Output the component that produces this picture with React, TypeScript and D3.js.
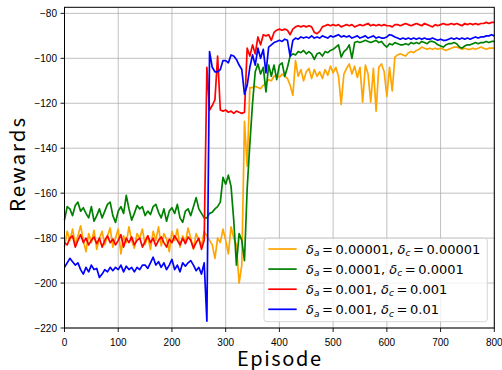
import React from 'react';
import * as d3 from 'd3';

// episodes sampled every 5 steps
const episodes = d3.range(0, 801, 5);

const orangeRewards = [
  -184, -177, -181, -176, -183, -179, -174.5, -181, -186, -178,
  -182, -176.5, -185, -180, -177, -183, -179, -175.5, -184, -180,
  -176, -187, -179, -182, -175, -181, -184.5, -178, -180, -176,
  -183, -179, -185, -177, -181, -175, -183.5, -178, -180.5, -186,
  -177, -181, -176, -184, -179, -182, -175.5, -180, -185, -178,
  -181, -183.5, -177,
  -179, -181, -183, -189, -180, -182, -176, -181, -187, -175,
  -180, -183, -200, -192, -128, -148, -113,
  -113, -112.5, -113, -113.5, -112, -111, -109.5, -110, -108, -107.5,
  -108.5, -107, -108, -109, -112, -116.5, -101, -108, -105, -110,
  -106, -104.5, -109, -105, -108, -106, -109, -105, -107.5, -103.5,
  -106.5, -104, -108, -120.5, -107, -104.5, -102.5, -107, -103.5, -108.5,
  -104, -119.5, -103, -107, -119.5, -104.5, -123.5, -104, -102.5, -106,
  -117, -104, -114.5, -99.5, -98.5, -98, -98.5, -99, -97.5, -97,
  -97.5, -96.5, -96, -95, -95.5, -96, -95.5, -96, -95.5, -96,
  -95.5, -96, -96.5, -96, -95.5, -95, -95, -95.5, -96, -95.5,
  -96, -96, -95.5, -96, -95.5, -95, -95.5, -96, -95.5, -95.5,
  -95.5,
];

const greenRewards = [
  -172, -166, -167, -170, -165.5, -164, -168, -166.5, -169, -171,
  -166, -172.5, -170, -167, -171, -168, -165, -164, -170, -173,
  -168, -166, -169, -161, -167, -172, -169, -165.5, -167, -166,
  -170, -168, -169.5, -166, -165, -168.5, -171, -167, -172.5, -168,
  -166.5, -169, -165, -171, -173, -168, -167, -170, -166, -162,
  -167, -169, -171,
  -171, -169, -168.5, -167, -166, -164, -153, -156, -152, -157,
  -172, -192, -178, -181, -190, -158, -138,
  -120, -106, -102.5, -107, -104, -115, -103, -108, -103, -109.5,
  -103, -102, -108, -104, -99, -98, -98.5, -97, -97.5, -96.5,
  -98, -97, -98, -100.5, -98, -97.5, -99, -97, -97.5, -96.5,
  -96, -95, -94, -99.5, -97, -96, -94, -100, -93, -92.5,
  -93, -92.5, -92, -92.5, -93, -92.5, -92, -93, -92.5, -94,
  -95, -93.5, -94, -93, -93.5, -94, -94, -93.5, -94, -93,
  -93.5, -93, -93.5, -92.5, -93, -93.5, -92.5, -92.5, -93, -94,
  -94.5, -95, -94, -93.5, -93.5, -93, -93.5, -95, -95.5, -94.5,
  -94, -94, -93.5, -93, -93.5, -93, -93, -92.5, -93, -92.5,
  -92.5,
];

const redRewards = [
  -182, -183, -180, -179, -184, -181, -178.5, -182, -180, -183,
  -181, -179.5, -182.5, -180, -184, -181, -179, -182, -180.5, -183,
  -181, -178.5, -184, -180, -182, -179.5, -183, -181, -180, -184,
  -181.5, -179, -182, -180, -183.5, -181, -179.5, -182, -184, -180.5,
  -182, -179, -181, -183, -180, -182.5, -179.5, -181, -184.5, -182,
  -180, -185, -181,
  -104, -123, -121, -118.5, -99, -123, -123.5, -123, -124, -123.5,
  -124.5, -123.5, -124, -124.5, -124, -95.5, -99,
  -94, -98, -90.5, -94, -89.5, -90, -89.5, -92, -88.5, -87.5,
  -87, -87.5, -87, -87.5, -89.5, -87, -86, -85.5, -86, -85.5,
  -86, -85.5, -86, -88.5, -89, -88, -86, -85.5, -85, -85.5,
  -85, -85.5, -85, -86, -85.5, -85, -85.5, -85, -86, -85.5,
  -85, -85.5, -85, -84.5, -85.5, -85, -85.5, -85, -85.5, -85,
  -85.5, -85.5, -86, -85, -85, -85.5, -85, -84.5, -85, -85.5,
  -85, -84.5, -85, -85.5, -84.5, -85, -85.5, -86, -85, -85.5,
  -85, -84.5, -85, -85, -84.5, -85, -84.5, -85, -85.5, -84.5,
  -85, -84.5, -85, -84.5, -85, -84.5, -84.5, -84, -84.5, -84,
  -84,
];

const blueRewards = [
  -193, -191, -189, -190.5, -192, -191, -194, -196, -193, -195,
  -192, -194, -193.5, -197.5, -196, -194, -195, -193, -194.5, -193,
  -194, -192, -195, -192.5, -194, -193, -195, -193, -194, -192,
  -192, -193.5, -191, -188.5, -192, -190.5, -193, -191, -194, -192,
  -189.5, -194, -192, -195, -191, -192.5, -191, -190, -192, -194.5,
  -193, -196, -191,
  -217, -97, -104, -106, -106, -105, -101, -101, -102, -98.5,
  -99, -100.5, -103, -105, -116, -112, -104,
  -98.5, -103, -95.5, -100, -96, -106.5, -95, -94, -93, -92.5,
  -92, -92.5, -91.5, -92, -99, -92, -91, -91.5, -90.5, -91,
  -90.5, -91, -90, -91, -90.5, -91, -90, -90.5, -91, -90,
  -90.5, -90, -89.5, -90.5, -90, -90.5, -90, -91, -90.5, -90,
  -91, -90.5, -90, -91, -90.5, -90, -91, -90.5, -91, -91,
  -90.5, -89.5, -89.8, -90.5, -91, -91.5, -91, -91.5, -91, -91.5,
  -91, -91.5, -91, -91.5, -91, -91.5, -91.5, -91, -91.5, -92,
  -91.5, -92, -92, -91.5, -91, -91.5, -91, -91.5, -91, -91.5,
  -91, -91.5, -91, -90.5, -91, -90.5, -90.5, -90, -90, -89.5,
  -90,
];

const deltaA = ['0.00001', '0.0001', '0.001', '0.001'];
const deltaC = ['0.00001', '0.0001', '0.001', '0.01'];
const seriesColors = ['#ffa500', '#008000', '#ff0000', '#0000ff'];
const allSeries = [orangeRewards, greenRewards, redRewards, blueRewards];

const xTicks = [0, 100, 200, 300, 400, 500, 600, 700, 800];
const yTicks = [-220, -200, -180, -160, -140, -120, -100, -80];

const W = 502;
const H = 370;
const left = 64.5, right = 494.3, top = 7.3, bottom = 328;

export default function App() {
  const x = d3.scaleLinear().domain([0, 800]).range([left, right]);
  const y = d3.scaleLinear().domain([-220, -77.3]).range([bottom, top]);

  const line = d3.line<number>()
    .x((_, i) => x(episodes[i]))
    .y(d => y(d));

  const tickFont = 'Liberation Sans, Arial, sans-serif';
  const legX = 264, legY = 238.3, legW = 223.3, legH = 83.4;
  const rowH = 20.1;
  const th = '\u2009';

  return (
    <svg width={W} height={H} style={{ position: 'absolute', left: 0, top: 0, background: '#fff' }}>
      {/* grid */}
      <g stroke="#b0b0b0" strokeWidth={0.8}>
        {xTicks.map(t => <line key={'gx' + t} x1={x(t)} x2={x(t)} y1={top} y2={bottom} />)}
        {yTicks.map(t => <line key={'gy' + t} x1={left} x2={right} y1={y(t)} y2={y(t)} />)}
      </g>

      {/* curves */}
      <g fill="none" strokeWidth={1.7} strokeLinejoin="round">
        {allSeries.map((s, i) => (
          <path key={i} d={line(s) || ''} stroke={seriesColors[i]} />
        ))}
      </g>

      {/* frame */}
      <rect x={left} y={top} width={right - left} height={bottom - top} fill="none" stroke="#000" strokeWidth={1} />

      {/* ticks */}
      <g stroke="#000" strokeWidth={0.9}>
        {xTicks.map(t => <line key={'tx' + t} x1={x(t)} x2={x(t)} y1={bottom} y2={bottom + 4} />)}
        {yTicks.map(t => <line key={'ty' + t} x1={left - 4} x2={left} y1={y(t)} y2={y(t)} />)}
      </g>
      <g fontFamily={tickFont} fontSize={10} fill="#000">
        {xTicks.map(t => (
          <text key={'lx' + t} x={x(t)} y={345.5} textAnchor="middle">{t}</text>
        ))}
        {yTicks.map(t => (
          <text key={'ly' + t} x={57} y={y(t)} dy="0.35em" textAnchor="end">{'\u2212' + Math.abs(t)}</text>
        ))}
      </g>

      {/* axis labels */}
      <text x={279} y={365.5} textAnchor="middle" fontFamily="Noto Sans CJK SC" fontSize={20}
        textLength={84} lengthAdjust="spacing">Episode</text>
      <text transform="translate(25,165) rotate(-90)" textAnchor="middle" fontFamily="Noto Sans CJK SC"
        fontSize={20.5} textLength={94} lengthAdjust="spacing">Rewards</text>

      {/* legend */}
      <rect x={legX} y={legY} width={legW} height={legH} rx={3} fill="#fff" fillOpacity={0.8}
        stroke="#cccccc" strokeWidth={0.8} />
      {seriesColors.map((c, i) => {
        const cy = 249 + i * rowH;
        return (
          <g key={'leg' + i}>
            <line x1={268.3} x2={296.7} y1={cy} y2={cy} stroke={c} strokeWidth={1.7} />
            <text x={306} y={cy + 4.6} fontFamily="DejaVu Sans" fontSize={13} fill="#000">
              <tspan fontStyle="italic">δ</tspan>
              <tspan fontStyle="italic" fontSize={9} dy={2.6}>a</tspan>
              <tspan dy={-2.6}>{`${th}=${th}${deltaA[i]}, `}</tspan>
              <tspan fontStyle="italic">δ</tspan>
              <tspan fontStyle="italic" fontSize={9} dy={2.6}>c</tspan>
              <tspan dy={-2.6}>{`${th}=${th}${deltaC[i]}`}</tspan>
            </text>
          </g>
        );
      })}
    </svg>
  );
}
